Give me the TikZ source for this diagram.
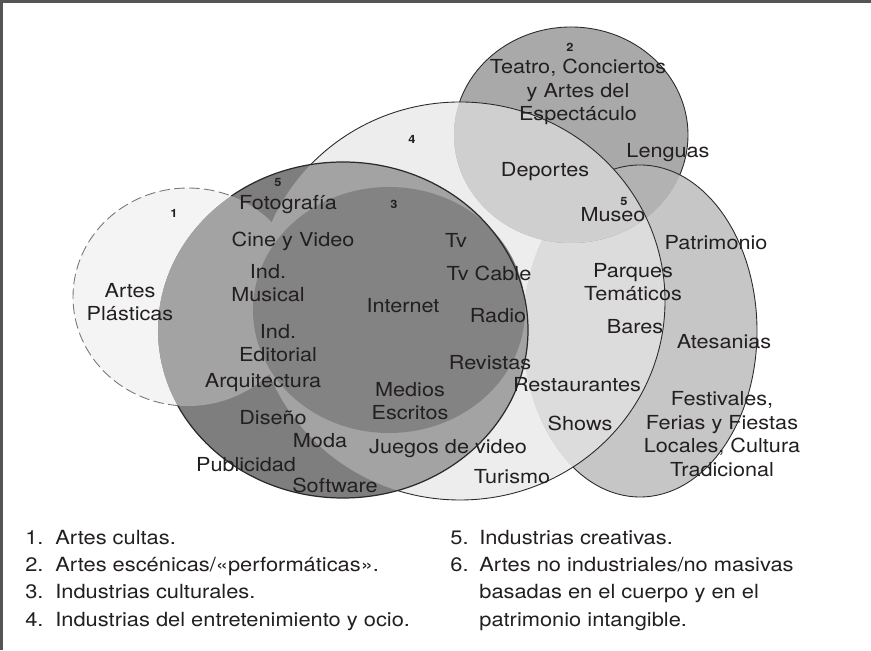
\documentclass[tikz,border=0pt]{standalone}
\usepackage{fontspec}
\newfontfamily\vennfont{TeX Gyre Heros}[FakeStretch=1.12]
\usepackage{tikz}

\definecolor{txtcol}{HTML}{231F20}
\definecolor{linecol}{HTML}{2A2A2A}
\definecolor{framecol}{HTML}{555555}
\definecolor{dashcol}{HTML}{777777}
\definecolor{fcultas}{HTML}{F4F4F4}
\definecolor{focio}{HTML}{EDEDED}
\definecolor{fpat}{HTML}{C6C6C6}
\definecolor{fpatocio}{HTML}{DCDCDC}
\definecolor{fesc}{HTML}{A9A9A9}
\definecolor{fescpat}{HTML}{B2B2B2}
\definecolor{fescocio}{HTML}{CFCFCF}
\definecolor{fcre}{HTML}{7E7E7E}
\definecolor{fcreocio}{HTML}{A3A3A3}
\definecolor{fcul}{HTML}{838383}

% the six sets
\newcommand{\cultas}{(3.76,7.06) ellipse [x radius=2.30, y radius=2.18]}
\newcommand{\escenicas}{(11.42,10.30) ellipse [x radius=2.34, y radius=2.16]}
\newcommand{\culturales}{(7.78,6.80) ellipse [x radius=2.72, y radius=2.46]}
\newcommand{\ocio}{(9.20,6.98) ellipse [x radius=4.10, y radius=3.98]}
\newcommand{\creativas}{(6.86,6.40) ellipse [x radius=3.70, y radius=3.36]}
\newcommand{\intangible}{(12.80,6.38) ellipse [x radius=2.34, y radius=3.32]}
\newcommand{\pagebox}{(0,0) rectangle (17.42,13)}

\tikzset{
  lbl/.style={font=\vennfont\fontsize{11}{13.5}\selectfont, text=txtcol, align=center, inner sep=0pt},
  num/.style={font=\vennfont\fontsize{6.5}{8}\selectfont\bfseries, text=txtcol, inner sep=0pt},
  leg/.style={font=\vennfont\fontsize{11.1}{13}\selectfont, text=txtcol, anchor=base west, inner sep=0pt},
  rim/.style={draw=linecol, line width=0.5pt},
  dashline/.style={draw=dashcol, line width=0.5pt, dash pattern=on 6pt off 2.5pt}
}

\begin{document}
\begin{tikzpicture}
\useasboundingbox \pagebox;

% frame
\draw[framecol, line width=1.2pt] (0,12.97) -- (17.42,12.97);
\draw[framecol, line width=1.2pt] (0.03,0) -- (0.03,13);

% fills, light sets first
\fill[focio] \ocio;
\fill[fcultas] \cultas;
\fill[fpat] \intangible;
\begin{scope}
  \clip \intangible;
  \fill[fpatocio] \ocio;
\end{scope}
\fill[fesc] \escenicas;
\begin{scope}
  \clip \escenicas;
  \fill[fescpat] \intangible;
  \fill[fescocio] \ocio;
\end{scope}
\fill[fcre] \creativas;
\begin{scope}
  \clip \creativas;
  \fill[fcreocio] \ocio;
  \fill[fcreocio] \cultas;
\end{scope}
\fill[fcul] \culturales;

% outlines, hidden where another set lies over them
\begin{scope}[even odd rule]
  \clip \pagebox \creativas;
  \draw[rim] \ocio;
  \draw[dashline] \cultas;
\end{scope}
\begin{scope}[even odd rule]
  \clip \pagebox \cultas;
  \draw[rim, line width=0.7pt] \creativas;
\end{scope}
\begin{scope}[even odd rule]
  \clip \pagebox \ocio;
  \draw[rim] \intangible;
  \clip \pagebox \intangible;
  \draw[rim] \escenicas;
\end{scope}

% set numbers
\node[num] (n1) at (3.48,8.74) {1};
\node[num] (n2) at (11.40,12.06) {2};
\node[num] (n3) at (7.88,8.92) {3};
\node[num] (n4) at (8.24,10.22) {4};
\node[num] (n5) at (5.56,9.34) {5};
\node[num] (n5b) at (12.48,8.96) {5};

% artes escenicas
\node[lbl] (teatro) at (11.56,11.16) {Teatro, Conciertos\\y Artes del\\Espectáculo};
\node[lbl] (deportes) at (10.90,9.56) {Deportes};
\node[lbl] (lenguas) at (13.36,9.94) {Lenguas};
\node[lbl] (museo) at (12.26,8.70) {Museo};

% artes cultas
\node[lbl] (plasticas) at (2.60,6.96) {Artes\\Plásticas};

% industrias creativas
\node[lbl] (foto) at (5.76,8.90) {Fotografía};
\node[lbl] (cine) at (5.86,8.18) {Cine y Video};
\node[lbl] (musical) at (5.36,7.34) {Ind.\\Musical};
\node[lbl] (editorial) at (5.56,6.14) {Ind.\\Editorial};
\node[lbl] (arq) at (5.26,5.34) {Arquitectura};
\node[lbl] (diseno) at (5.46,4.64) {Diseño};
\node[lbl] (moda) at (6.40,4.18) {Moda};
\node[lbl] (publi) at (4.92,3.70) {Publicidad};
\node[lbl] (soft) at (6.70,3.30) {Software};

% industrias culturales
\node[lbl] (internet) at (8.06,6.88) {Internet};
\node[lbl] (tv) at (9.12,8.20) {Tv};
\node[lbl] (cable) at (9.78,7.54) {Tv Cable};
\node[lbl] (radio) at (9.96,6.68) {Radio};
\node[lbl] (revistas) at (9.80,5.74) {Revistas};
\node[lbl] (medios) at (8.20,4.98) {Medios\\Escritos};

% entretenimiento y ocio
\node[lbl] (juegos) at (8.96,4.02) {Juegos de video};
\node[lbl] (turismo) at (10.24,3.46) {Turismo};
\node[lbl] (restau) at (11.54,5.30) {Restaurantes};
\node[lbl] (shows) at (11.60,4.54) {Shows};
\node[lbl] (parques) at (12.66,7.36) {Parques\\Temáticos};
\node[lbl] (bares) at (12.70,6.46) {Bares};

% patrimonio intangible
\node[lbl] (patrimonio) at (14.32,8.14) {Patrimonio};
\node[lbl] (atesanias) at (14.48,6.16) {Atesanias};
\node[lbl] (festivales) at (14.44,4.32) {Festivales,\\Ferias y Fiestas\\Locales, Cultura\\Tradicional};

% legend
\node[leg] (leg1n) at (0.50,2.10) {1.};
\node[leg] (leg1) at (1.10,2.10) {Artes cultas.};
\node[leg] (leg2n) at (0.50,1.56) {2.};
\node[leg] (leg2) at (1.10,1.56) {Artes escénicas/«performáticas».};
\node[leg] (leg3n) at (0.50,1.02) {3.};
\node[leg] (leg3) at (1.10,1.02) {Industrias culturales.};
\node[leg] (leg4n) at (0.50,0.48) {4.};
\node[leg] (leg4) at (1.10,0.48) {Industrias del entretenimiento y ocio.};
\node[leg] (leg5n) at (9.00,2.10) {5.};
\node[leg] (leg5) at (9.58,2.10) {Industrias creativas.};
\node[leg] (leg6n) at (9.00,1.56) {6.};
\node[leg] (leg6a) at (9.58,1.56) {Artes no industriales/no masivas};
\node[leg] (leg6b) at (9.58,1.02) {basadas en el cuerpo y en el};
\node[leg] (leg6c) at (9.58,0.48) {patrimonio intangible.};
\end{tikzpicture}
\end{document}
